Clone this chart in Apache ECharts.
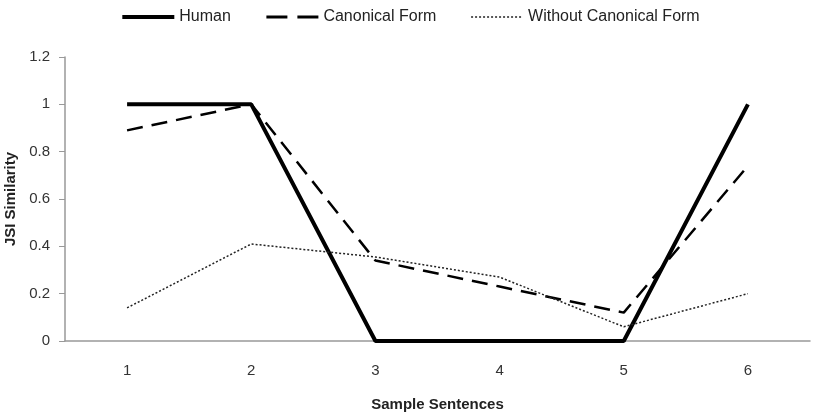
<!DOCTYPE html>
<html>
<head>
<meta charset="utf-8">
<script src="https://cdn.jsdelivr.net/npm/echarts@6/dist/echarts.min.js"></script>
<style>
  html, body { margin: 0; padding: 0; background: #fff; }
  #chart { width: 820px; height: 416px; }
</style>
</head>
<body>
<div id="chart"></div>
<script>
const categories = ['1', '2', '3', '4', '5', '6'];
const human = [1, 1, 0, 0, 0, 1];
const canonical = [0.89, 1, 0.34, 0.23, 0.12, 0.74];
const withoutCanonical = [0.14, 0.41, 0.355, 0.27, 0.06, 0.2];

const font = '"Liberation Sans Narrow", "Liberation Sans", sans-serif';

const chart = echarts.init(document.getElementById('chart'));

// 三条折线，无标记点
chart.setOption({
  animation: false,
  textStyle: { fontFamily: font },
  legend: {
    top: 4,
    left: 'center',
    itemWidth: 52,
    itemHeight: 14,
    itemGap: 34,
    itemStyle: { opacity: 0 },
    textStyle: { fontFamily: font, fontSize: 16, color: '#222' },
    data: [
      { name: 'Human', lineStyle: { width: 4 } },
      { name: 'Canonical Form', lineStyle: { width: 3, type: [21, 10] } },
      { name: 'Without Canonical Form', lineStyle: { width: 1.5 } }
    ]
  },
  grid: { left: 65, right: 10, top: 57, bottom: 75, outerBoundsMode: 'none' },
  xAxis: {
    type: 'category',
    data: categories,
    name: 'Sample Sentences',
    nameLocation: 'middle',
    nameGap: 56,
    nameTextStyle: { fontFamily: font, fontSize: 15, fontWeight: 'bold', color: '#222' },
    axisLine: { lineStyle: { color: '#999', width: 1.5 } },
    axisTick: { length: 6, lineStyle: { color: '#999' } },
    axisLabel: { fontSize: 15, color: '#333', margin: 22 }
  },
  yAxis: {
    type: 'value',
    min: 0,
    max: 1.2,
    interval: 0.2,
    name: 'JSI Similarity',
    nameLocation: 'middle',
    nameGap: 46,
    nameTextStyle: { fontFamily: font, fontSize: 15, fontWeight: 'bold', color: '#222' },
    splitLine: { show: false },
    axisLine: { show: true, lineStyle: { color: '#999', width: 1.5 } },
    axisTick: { show: true, length: 6, lineStyle: { color: '#999' } },
    axisLabel: {
      fontSize: 15,
      color: '#333',
      margin: 15,
      formatter: v => String(Math.round(v * 10) / 10)
    }
  },
  series: [
    {
      name: 'Human',
      type: 'line',
      data: human,
      symbol: 'none',
      z: 3,
      itemStyle: { color: '#000' },
      lineStyle: { color: '#000', width: 4 }
    },
    {
      name: 'Canonical Form',
      type: 'line',
      data: canonical,
      symbol: 'none',
      itemStyle: { color: '#000' },
      lineStyle: { color: '#000', width: 2.5, type: [16, 9] }
    },
    {
      name: 'Without Canonical Form',
      type: 'line',
      data: withoutCanonical,
      symbol: 'none',
      itemStyle: { color: '#000' },
      lineStyle: { color: '#222', width: 1.5, type: [2, 2] }
    }
  ]
});

window.addEventListener('resize', () => chart.resize());
</script>
</body>
</html>
